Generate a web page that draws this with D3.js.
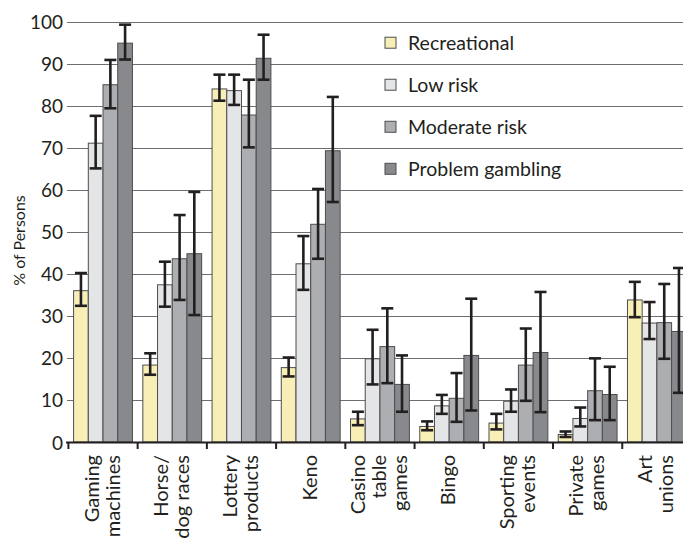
<!DOCTYPE html>
<html>
<head>
<meta charset="utf-8">
<script src="https://cdn.jsdelivr.net/npm/d3@7"></script>
<style>
  html, body { margin: 0; padding: 0; background: #fff; }
  svg { display: block; }
  text { font-family: Lato, "Open Sans", sans-serif; fill: #231f20; }
</style>
</head>
<body>
<svg id="chart" width="683" height="539"></svg>
<script>
const categories = ["Gaming machines", "Horse/ dog races", "Lottery products", "Keno", "Casino table games", "Bingo", "Sporting events", "Private games", "Art unions"];
const categoryLines = [["Gaming", "machines"], ["Horse/", "dog races"], ["Lottery", "products"], ["Keno"], ["Casino", "table", "games"], ["Bingo"], ["Sporting", "events"], ["Private", "games"], ["Art", "unions"]];
const seriesNames = ["Recreational", "Low risk", "Moderate risk", "Problem gambling"];

const recreational = [36.0, 18.3, 84.0, 17.7, 5.5, 3.7, 4.5, 1.8, 33.8];
const recreationalLow = [32.4, 16.0, 81.2, 15.6, 4.0, 2.8, 3.0, 1.2, 29.7];
const recreationalHigh = [40.2, 21.1, 87.4, 20.1, 7.2, 4.9, 6.7, 2.5, 38.1];

const lowRisk = [71.1, 37.4, 83.6, 42.4, 19.8, 8.6, 9.7, 5.6, 28.3];
const lowRiskLow = [65.1, 32.2, 80.2, 36.2, 13.7, 6.7, 7.2, 3.7, 24.5];
const lowRiskHigh = [77.6, 42.9, 87.4, 49.0, 26.7, 11.2, 12.5, 8.2, 33.3];

const moderateRisk = [85.0, 43.6, 77.8, 51.8, 22.7, 10.4, 18.3, 12.2, 28.4];
const moderateRiskLow = [79.4, 33.8, 70.1, 43.6, 14.0, 4.8, 9.8, 5.2, 19.8];
const moderateRiskHigh = [90.9, 54.0, 86.2, 60.2, 31.8, 16.4, 27.0, 19.9, 37.6];

const problemGambling = [94.9, 44.8, 91.3, 69.3, 13.7, 20.6, 21.3, 11.3, 26.3];
const problemGamblingLow = [91.0, 30.2, 86.2, 57.1, 7.2, 7.5, 7.1, 5.2, 11.7];
const problemGamblingHigh = [99.3, 59.5, 96.9, 82.1, 20.6, 34.1, 35.7, 17.9, 41.4];

const yTicks = [0, 10, 20, 30, 40, 50, 60, 70, 80, 90, 100];
const yTitle = "% of Persons";

const seriesValues = [recreational, lowRisk, moderateRisk, problemGambling];
const seriesLow = [recreationalLow, lowRiskLow, moderateRiskLow, problemGamblingLow];
const seriesHigh = [recreationalHigh, lowRiskHigh, moderateRiskHigh, problemGamblingHigh];
const colors = ["#f7efb6", "#e4e5e7", "#adaeb2", "#88898d"];

const svg = d3.select("#chart");

const y = d3.scaleLinear().domain([0, 100]).range([442, 21.7]);
const x0 = d3.scaleBand().domain(categories).range([68.4, 691.5]).paddingInner(0.15).paddingOuter(0.075);
const x1 = d3.scaleBand().domain(seriesNames).range([0, x0.bandwidth()]);
const color = d3.scaleOrdinal().domain(seriesNames).range(colors);

// gridlines
svg.append("g").selectAll("line")
  .data(yTicks.filter(d => d > 0))
  .join("line")
  .attr("x1", 67).attr("x2", 683)
  .attr("y1", d => Math.round(y(d)) + 0.5).attr("y2", d => Math.round(y(d)) + 0.5)
  .attr("stroke", "#6d6e71").attr("stroke-width", 1.2);

// y tick labels
svg.append("g").selectAll("text")
  .data(yTicks)
  .join("text")
  .attr("x", 63).attr("y", d => y(d))
  .attr("text-anchor", "end").attr("dominant-baseline", "central")
  .attr("font-size", 19)
  .text(d => d);

// y title
svg.append("text")
  .attr("transform", "translate(18.5,240.5) rotate(-90)")
  .attr("text-anchor", "middle").attr("dominant-baseline", "central")
  .attr("font-size", 16)
  .text(yTitle);

// data rows
const rows = [];
categories.forEach((c, ci) => {
  seriesNames.forEach((s, si) => {
    rows.push({ cat: c, series: s, v: seriesValues[si][ci], lo: seriesLow[si][ci], hi: seriesHigh[si][ci] });
  });
});

// bars
svg.append("g").selectAll("rect")
  .data(rows)
  .join("rect")
  .attr("x", d => x0(d.cat) + x1(d.series))
  .attr("y", d => y(d.v))
  .attr("width", x1.bandwidth())
  .attr("height", d => y(0) - y(d.v))
  .attr("fill", d => color(d.series))
  .attr("stroke", "#4d4d4f").attr("stroke-width", 1);

// error bars
const capW = 12;
const eg = svg.append("g").attr("stroke", "#231f20").attr("stroke-width", 2.6).attr("fill", "none");
const ebar = eg.selectAll("g").data(rows).join("g")
  .attr("transform", d => `translate(${x0(d.cat) + x1(d.series) + x1.bandwidth() / 2},0)`);
ebar.append("line").attr("x1", 0).attr("x2", 0).attr("y1", d => y(d.lo)).attr("y2", d => y(d.hi));
ebar.append("line").attr("x1", -capW / 2).attr("x2", capW / 2).attr("y1", d => y(d.hi)).attr("y2", d => y(d.hi));
ebar.append("line").attr("x1", -capW / 2).attr("x2", capW / 2).attr("y1", d => y(d.lo)).attr("y2", d => y(d.lo));

// x axis line and ticks
const step = x0.step();
const boundaries = categories.map((c, i) => x0.range()[0] + i * step);
svg.append("line")
  .attr("x1", 66).attr("x2", 683).attr("y1", y(0) + 0.5).attr("y2", y(0) + 0.5)
  .attr("stroke", "#231f20").attr("stroke-width", 2);
svg.append("g").selectAll("line")
  .data(boundaries)
  .join("line")
  .attr("x1", d => d).attr("x2", d => d)
  .attr("y1", y(0)).attr("y2", y(0) + 7)
  .attr("stroke", "#231f20").attr("stroke-width", 2);

// x labels
const lh = 21;
const xl = svg.append("g").selectAll("g")
  .data(categories)
  .join("g")
  .attr("transform", d => `translate(${x0(d) + x0.bandwidth() / 2 - 1},455) rotate(-90)`);
xl.each(function (d, i) {
  const lines = categoryLines[i];
  const n = lines.length;
  d3.select(this).selectAll("text").data(lines).join("text")
    .attr("x", 0)
    .attr("y", (t, j) => (j - (n - 1) / 2) * lh)
    .attr("dy", "0.35em")
    .attr("text-anchor", "end")
    .attr("font-size", 20)
    .text(t => t);
});

// legend
const lg = svg.append("g").selectAll("g")
  .data(seriesNames)
  .join("g")
  .attr("transform", (d, i) => `translate(385,${y(95 - i * 10)})`);
lg.append("rect")
  .attr("x", 0).attr("y", -5.5).attr("width", 11).attr("height", 11)
  .attr("fill", d => color(d)).attr("stroke", "#4d4d4f").attr("stroke-width", 1);
lg.append("text")
  .attr("x", 23).attr("y", 0).attr("dominant-baseline", "central")
  .attr("font-size", 19.5)
  .text(d => d);
</script>
</body>
</html>
